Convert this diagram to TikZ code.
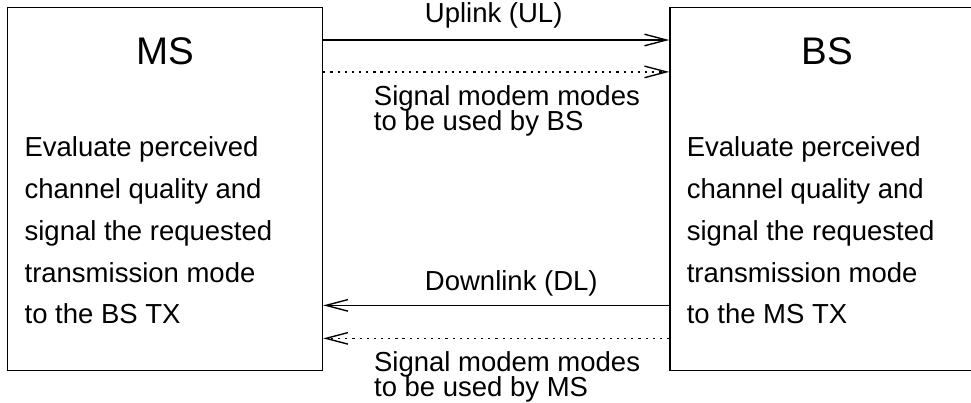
\documentclass[tikz,border=0pt]{standalone}
\usepackage{fontspec}
\setmainfont{Liberation Sans}
\usetikzlibrary{arrows.meta, positioning}

\begin{document}
\begin{tikzpicture}[
    station/.style={rectangle, draw, line width=0.5pt, minimum width=114.5pt,
        minimum height=132pt, inner sep=0pt},
    title/.style={inner sep=0pt, font=\fontsize{14}{16}\selectfont},
    task/.style={inner sep=0pt, align=left, font=\fontsize{10}{15.2}\selectfont},
    link/.style={line width=0.5pt, -{Straight Barb[length=8pt, width=4.2pt]}},
    signal/.style={link, dash pattern=on 0.8pt off 1.8pt},
    lbl/.style={inner sep=0pt, font=\fontsize{10}{12}\selectfont},
    note/.style={inner sep=0pt, align=left,
        font={\fontsize{10}{9.1}\selectfont\lineskiplimit=-5pt}}
]
    \useasboundingbox (0,0) rectangle (353.1pt,-146.2pt);
    \clip (0,0) rectangle (353.1pt,-146.2pt);
    \node[station, anchor=north west] (ms) at (2.55pt,-2.55pt) {};
    \node[station, right=125.8pt of ms] (bs) {};

    \node[title, below=11pt of ms.north] (mstitle) {MS};
    \node[title, below=11pt of bs.north] (bstitle) {BS};
    \node[task, below right=47pt and 6.2pt of ms.north west] (mstask)
        {Evaluate perceived\\channel quality and\\signal the requested\\transmission mode\\to the BS TX};
    \node[task, below right=47pt and 6.2pt of bs.north west] (bstask)
        {Evaluate perceived\\channel quality and\\signal the requested\\transmission mode\\to the MS TX};

    % uplink
    \draw[link] ([yshift=-12pt]ms.north east) --
        node[lbl, pos=0.292, anchor=base west, yshift=6.2pt] (ul) {Uplink (UL)}
        ([yshift=-12pt]bs.north west);
    \draw[signal] ([yshift=-23.6pt]ms.north east) --
        node[note, pos=0.1445, anchor=north west, yshift=-4.7pt] (ulsig) {Signal modem modes\\to be used by BS}
        ([yshift=-23.6pt]bs.north west);

    % downlink
    \draw[link] ([yshift=24pt]bs.south west) --
        node[lbl, pos=0.708, anchor=base west, yshift=5.5pt] (dl) {Downlink (DL)}
        ([yshift=24pt]ms.south east);
    \draw[signal] ([yshift=12pt]bs.south west) --
        node[note, pos=0.855, anchor=north west, yshift=-4.7pt] (dlsig) {Signal modem modes\\to be used by MS}
        ([yshift=12pt]ms.south east);
\end{tikzpicture}
\end{document}
